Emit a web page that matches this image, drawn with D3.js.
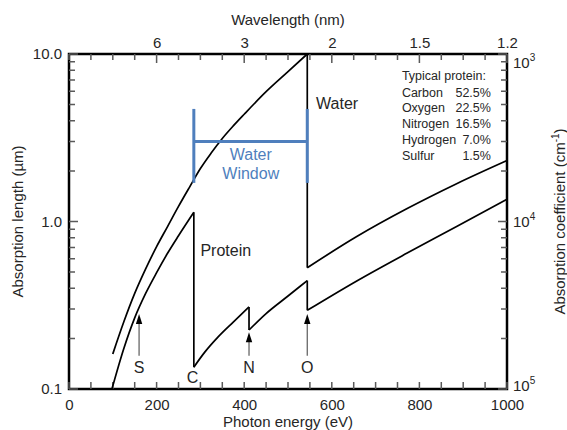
<!DOCTYPE html>
<html>
<head>
<meta charset="utf-8">
<script src="https://cdn.jsdelivr.net/npm/d3@7"></script>
<style>
  body { margin: 0; background: #fff; }
  text { font-family: "Liberation Sans", Arial, sans-serif; fill: #262626; }
</style>
</head>
<body>
<svg id="root"></svg>
<script>
// water curve, below and above the oxygen edge (eV, absorption length in um)
const waterPreE  = [100, 125, 150, 175, 200, 225, 250, 275, 300, 325, 350, 375, 400, 450, 500, 544]
const waterPreL  = [0.162, 0.251, 0.372, 0.521, 0.708, 0.933, 1.23, 1.60, 2.07, 2.57, 3.13, 3.72, 4.37, 5.96, 7.85, 10.0]
const waterPostE = [544, 657, 771, 885, 1000]
const waterPostL = [0.53, 0.813, 1.19, 1.68, 2.31]

// protein curve, split at the C, N and O edges
const protein1E = [98, 125, 150, 175, 200, 225, 250, 285]
const protein1L = [0.1, 0.174, 0.266, 0.372, 0.495, 0.646, 0.822, 1.135]
const protein2E = [285, 310, 340, 375, 411]
const protein2L = [0.135, 0.166, 0.204, 0.251, 0.309]
const protein3E = [411, 450, 500, 544]
const protein3L = [0.225, 0.282, 0.359, 0.444]
const protein4E = [544, 657, 771, 885, 1000]
const protein4L = [0.295, 0.442, 0.646, 0.933, 1.357]

// edge arrows
const arrowLabels = ["S", "N", "O"]
const arrowE = [160, 411, 544]
const arrowTipL = [0.28, 0.218, 0.28]
const arrowBaseL = 0.158
const arrowLabelL = 0.135

// water window bracket
const windowE = [285, 544]
const windowL = [1.7, 3.0, 4.7]

// axes
const energyTicks = d3.range(0, 1001, 50)
const energyLabels = [0, 200, 400, 600, 800, 1000]
const wavelengthLabels = ["6", "3", "2", "1.5", "1.2"]
const wavelengthTickE = [200, 400, 600, 800, 1000]
const lengthTicks = [0.1, 0.2, 0.3, 0.4, 0.5, 0.6, 0.7, 0.8, 0.9, 1, 2, 3, 4, 5, 6, 7, 8, 9, 10]
const lengthLabels = [0.1, 1, 10]
const coeffLabels = [3, 4, 5]

const legendNames = ["Carbon", "Oxygen", "Nitrogen", "Hydrogen", "Sulfur"]
const legendValues = ["52.5%", "22.5%", "16.5%", "7.0%", "1.5%"]

const W = 567, H = 430
const margin = { top: 54, right: 60, bottom: 41, left: 69 }
const width = W - margin.left - margin.right,
      height = H - margin.top - margin.bottom

const svg = d3.select("#root").attr("width", W).attr("height", H)
const g = svg.append("g").attr("transform", `translate(${margin.left},${margin.top})`)

const x = d3.scaleLinear([0, 1000], [0, width])
const y = d3.scaleLog([0.1, 10], [height, 0])
const yR = d3.scaleLog([1e3, 1e5], [0, height])

const blue = "#4f7fbd"
const tickColor = "#5a5a5a"

// tick labels through d3 axes
function labelsOnly(a) {
  a.select(".domain").remove()
  a.selectAll(".tick line").remove()
  a.selectAll(".tick text").attr("font-size", 15).attr("font-family", null)
}

g.append("g")
  .attr("transform", `translate(0,${height})`)
  .call(d3.axisBottom(x).tickValues(energyLabels).tickSize(0).tickPadding(10)
    .tickFormat(d3.format("d")))
  .call(labelsOnly)

g.append("g")
  .call(d3.axisTop(x).tickValues(wavelengthTickE).tickSize(0).tickPadding(6)
    .tickFormat((d, i) => wavelengthLabels[i]))
  .call(labelsOnly)

g.append("g")
  .call(d3.axisLeft(y).tickValues(lengthLabels).tickSize(0).tickPadding(7)
    .tickFormat(d3.format(".1f")))
  .call(labelsOnly)

coeffLabels.forEach(p => {
  const yy = Math.min(Math.max(yR(10 ** p), 9), height - 3)
  const t = g.append("text").attr("x", width + 6).attr("y", yy + 5).attr("font-size", 15)
  t.append("tspan").text("10")
  t.append("tspan").attr("font-size", 10).attr("dy", -7).text(p)
})

// frame
g.append("rect")
  .attr("width", width).attr("height", height)
  .attr("fill", "none").attr("stroke", "#000").attr("stroke-width", 2.5)

// inward tick marks
const tickPath = d3.path()
energyTicks.forEach(d => {
  tickPath.moveTo(x(d), height); tickPath.lineTo(x(d), height - 7)
  tickPath.moveTo(x(d), 0); tickPath.lineTo(x(d), wavelengthTickE.includes(d) ? 9 : 6)
})
lengthTicks.forEach(d => {
  const len = lengthLabels.includes(d) ? 9 : 6
  tickPath.moveTo(0, y(d)); tickPath.lineTo(len, y(d))
  // right axis: absorption coefficient = 1e4 / length
  tickPath.moveTo(width, yR(1e4 / d)); tickPath.lineTo(width - len, yR(1e4 / d))
})
g.append("path")
  .attr("d", tickPath.toString())
  .attr("fill", "none")
  .attr("stroke", tickColor)
  .attr("stroke-width", 1.5)

// axis titles
svg.append("text").attr("x", margin.left + width / 2).attr("y", 25)
  .attr("text-anchor", "middle").attr("font-size", 15).text("Wavelength (nm)")
svg.append("text").attr("x", margin.left + width / 2).attr("y", 427)
  .attr("text-anchor", "middle").attr("font-size", 15).text("Photon energy (eV)")
svg.append("text").attr("transform", `translate(23,${margin.top + height / 2}) rotate(-90)`)
  .attr("text-anchor", "middle").attr("font-size", 15).text("Absorption length (µm)")
const rt = svg.append("text").attr("transform", `translate(565,${margin.top + height / 2}) rotate(-90)`)
  .attr("text-anchor", "middle").attr("font-size", 15)
rt.append("tspan").text("Absorption coefficient (cm")
rt.append("tspan").attr("font-size", 10).attr("dy", -6).text("-1")
rt.append("tspan").attr("dy", 6).text(")")

// curves
const line = d3.line()
  .x(d => x(d[0]))
  .y(d => y(d[1]))
  .curve(d3.curveMonotoneX)

const segments = [
  [waterPreE, waterPreL], [waterPostE, waterPostL],
  [protein1E, protein1L], [protein2E, protein2L], [protein3E, protein3L], [protein4E, protein4L]
]
segments.forEach(([E, L]) => {
  g.append("path")
    .datum(d3.zip(E, L))
    .attr("fill", "none")
    .attr("stroke", "#000")
    .attr("stroke-width", 1.7)
    .attr("d", line)
})

// vertical drops at the absorption edges
const drops = [
  [waterPreE, waterPreL, waterPostE, waterPostL],
  [protein1E, protein1L, protein2E, protein2L],
  [protein2E, protein2L, protein3E, protein3L],
  [protein3E, protein3L, protein4E, protein4L]
]
drops.forEach(([aE, aL, bE, bL]) => {
  g.append("line")
    .attr("x1", x(aE[aE.length - 1])).attr("y1", y(aL[aL.length - 1]))
    .attr("x2", x(bE[0])).attr("y2", y(bL[0]))
    .attr("stroke", "#000").attr("stroke-width", 1.7)
})

// water window
windowE.forEach(e => {
  g.append("line")
    .attr("x1", x(e)).attr("x2", x(e))
    .attr("y1", y(windowL[0])).attr("y2", y(windowL[2]))
    .attr("stroke", blue).attr("stroke-width", 3)
})
g.append("line")
  .attr("x1", x(windowE[0])).attr("x2", x(windowE[1]))
  .attr("y1", y(windowL[1])).attr("y2", y(windowL[1]))
  .attr("stroke", blue).attr("stroke-width", 3)
const ww = g.append("text").attr("text-anchor", "middle").attr("font-size", 16)
  .style("fill", blue)
ww.append("tspan").attr("x", x(415)).attr("y", 106).text("Water")
ww.append("tspan").attr("x", x(415)).attr("y", 125).text("Window")

// arrows
arrowE.forEach((e, i) => {
  const xx = x(e), tip = y(arrowTipL[i])
  g.append("line")
    .attr("x1", xx).attr("x2", xx)
    .attr("y1", y(arrowBaseL)).attr("y2", tip + 6)
    .attr("stroke", "#666").attr("stroke-width", 1.3)
  g.append("path")
    .attr("d", `M${xx},${tip}L${xx - 3.2},${tip + 10}L${xx + 3.2},${tip + 10}Z`)
    .attr("fill", "#000")
  g.append("text")
    .attr("x", xx).attr("y", y(arrowLabelL)).attr("dy", "0.36em")
    .attr("text-anchor", "middle").attr("font-size", 16)
    .text(arrowLabels[i])
})
g.append("text")
  .attr("x", x(282)).attr("y", y(0.118)).attr("dy", "0.36em")
  .attr("text-anchor", "middle").attr("font-size", 16).text("C")

// curve labels
g.append("text").attr("x", x(300)).attr("y", y(0.62)).attr("font-size", 16).text("Protein")
g.append("text").attr("x", x(564)).attr("y", y(4.7)).attr("font-size", 16).text("Water")

// composition box
const legend = g.append("g").attr("transform", `translate(${x(760)},0)`)
legend.append("text").attr("x", 0).attr("y", 26).attr("font-size", 12.5).text("Typical protein:")
legendNames.forEach((n, i) => {
  legend.append("text").attr("x", 0).attr("y", 42.5 + i * 15.9).attr("font-size", 12.5).text(n)
  legend.append("text").attr("x", 89).attr("y", 42.5 + i * 15.9).attr("font-size", 12.5)
    .attr("text-anchor", "end").text(legendValues[i])
})
</script>
</body>
</html>
